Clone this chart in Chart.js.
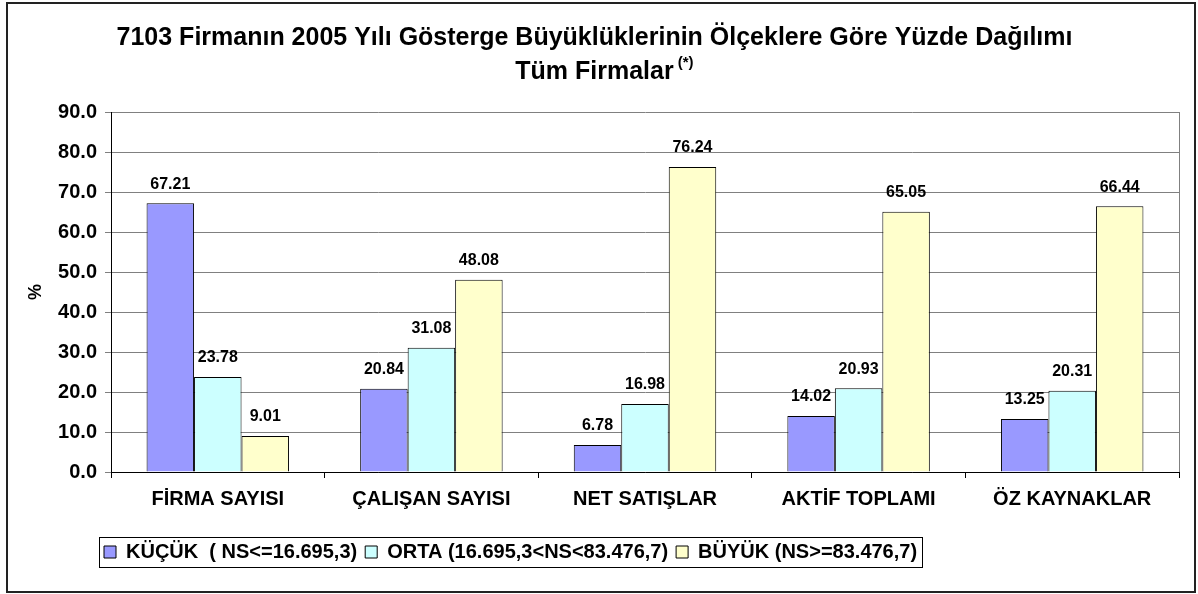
<!DOCTYPE html>
<html>
<head>
<meta charset="utf-8">
<script src="https://cdn.jsdelivr.net/npm/chart.js@4/dist/chart.umd.min.js"></script>
<style>
  body { margin: 0; background: #fff; }
  #wrap { position: relative; width: 1198px; height: 594px; }
</style>
</head>
<body>
<div id="wrap"><canvas id="grafik"></canvas></div>
<script>
const kategoriler = ['FİRMA SAYISI', 'ÇALIŞAN SAYISI', 'NET SATIŞLAR', 'AKTİF TOPLAMI', 'ÖZ KAYNAKLAR'];
const kucuk = [67.21, 20.84, 6.78, 14.02, 13.25];
const orta = [23.78, 31.08, 16.98, 20.93, 20.31];
const buyuk = [9.01, 48.08, 76.24, 65.05, 66.44];
const seriAdlari = ['KÜÇÜK  ( NS<=16.695,3)', 'ORTA (16.695,3<NS<83.476,7)', 'BÜYÜK (NS>=83.476,7)'];

const FONT = 'Liberation Sans, Arial, sans-serif';

// cerceve, sag kenar, legend kutusu, ust simge
const ekler = {
    id: 'ekler',
    afterLayout(chart) {
        chart.legend.left = 96;
    },
    afterDraw(chart) {
        const ctx = chart.ctx;
        const a = chart.chartArea;
        ctx.save();
        // plot alani sag cizgisi
        ctx.strokeStyle = '#808080';
        ctx.lineWidth = 1;
        ctx.beginPath();
        ctx.moveTo(a.right + 0.5, a.top);
        ctx.lineTo(a.right + 0.5, a.bottom);
        ctx.stroke();
        // dis cerceve
        ctx.strokeStyle = '#222';
        ctx.lineWidth = 2;
        ctx.strokeRect(7, 3, 1188, 589);
        // legend kutusu
        const hb = chart.legend.legendHitBoxes;
        if (hb && hb.length) {
            const son = hb[hb.length - 1];
            const x1 = hb[0].left - 5, x2 = son.left + son.width + 5;
            const y1 = hb[0].top - 5, y2 = hb[0].top + hb[0].height + 5;
            ctx.lineWidth = 1;
            ctx.strokeStyle = '#000';
            ctx.strokeRect(Math.round(x1) + 0.5, Math.round(y1) + 0.5, Math.round(x2 - x1), Math.round(y2 - y1));
        }
        // baslik ust simge (*)
        ctx.font = 'bold 25px ' + FONT;
        const w = ctx.measureText('Tüm Firmalar').width;
        const t = chart.titleBlock;
        const cx = (t.left + t.right) / 2;
        ctx.font = 'bold 15px ' + FONT;
        ctx.fillStyle = '#000';
        ctx.textBaseline = 'middle';
        ctx.textAlign = 'left';
        ctx.fillText('(*)', cx + w / 2 + 4, t.top + 21 + 34 + 17 - 9);
        ctx.restore();
    }
};

// cubuk ustu degerler
const degerler = {
    id: 'degerler',
    afterDatasetsDraw(chart) {
        const ctx = chart.ctx;
        ctx.save();
        ctx.font = 'bold 16px ' + FONT;
        ctx.fillStyle = '#000';
        ctx.textAlign = 'center';
        ctx.textBaseline = 'middle';
        chart.data.datasets.forEach((ds, i) => {
            chart.getDatasetMeta(i).data.forEach((bar, j) => {
                ctx.fillText(ds.data[j].toFixed(2), bar.x, bar.y - 19);
            });
        });
        ctx.restore();
    }
};

new Chart(document.getElementById('grafik'), {
    type: 'bar',
    data: {
        labels: kategoriler,
        datasets: [
            { label: seriAdlari[0], data: kucuk, backgroundColor: '#9999FF', borderColor: '#000', borderWidth: 1 },
            { label: seriAdlari[1], data: orta, backgroundColor: '#CCFFFF', borderColor: '#000', borderWidth: 1 },
            { label: seriAdlari[2], data: buyuk, backgroundColor: '#FFFFCC', borderColor: '#000', borderWidth: 1 }
        ]
    },
    options: {
        responsive: true,
        maintainAspectRatio: false,
        animation: false,
        layout: { padding: { left: 10, right: 19, top: 0, bottom: 22 } },
        datasets: { bar: { barPercentage: 1, categoryPercentage: 0.667 } },
        scales: {
            x: {
                offset: true,
                grid: { offset: true, drawOnChartArea: false, drawTicks: true, tickLength: 6, color: '#000' },
                border: { color: '#000', width: 1 },
                ticks: { font: { family: FONT, size: 20, weight: 'bold' }, color: '#000', padding: 9, maxRotation: 0 },
                afterFit(s) { s.height = 62; }
            },
            y: {
                min: 0,
                max: 90,
                ticks: {
                    stepSize: 10,
                    callback: v => v.toFixed(1),
                    font: { family: FONT, size: 20, weight: 'bold' },
                    color: '#000',
                    padding: 8
                },
                grid: { color: '#808080', tickLength: 6, drawTicks: true },
                border: { color: '#000', width: 1 },
                title: { display: true, text: '%', font: { family: FONT, size: 18, weight: 'bold' }, color: '#000', padding: { top: 15 } },
                afterFit(s) { s.width = 101; }
            }
        },
        plugins: {
            title: {
                display: true,
                text: ['7103 Firmanın 2005 Yılı Gösterge Büyüklüklerinin Ölçeklere Göre Yüzde Dağılımı', 'Tüm Firmalar'],
                font: { family: FONT, size: 25, weight: 'bold', lineHeight: 1.36 },
                color: '#000',
                padding: { top: 21, bottom: 23 }
            },
            legend: {
                position: 'bottom',
                align: 'start',
                labels: {
                    boxWidth: 12,
                    boxHeight: 12,
                    padding: 8,
                    color: '#000',
                    font: { family: FONT, size: 20, weight: 'bold' }
                }
            },
            tooltip: { enabled: false }
        }
    },
    plugins: [ekler, degerler]
});
</script>
</body>
</html>
